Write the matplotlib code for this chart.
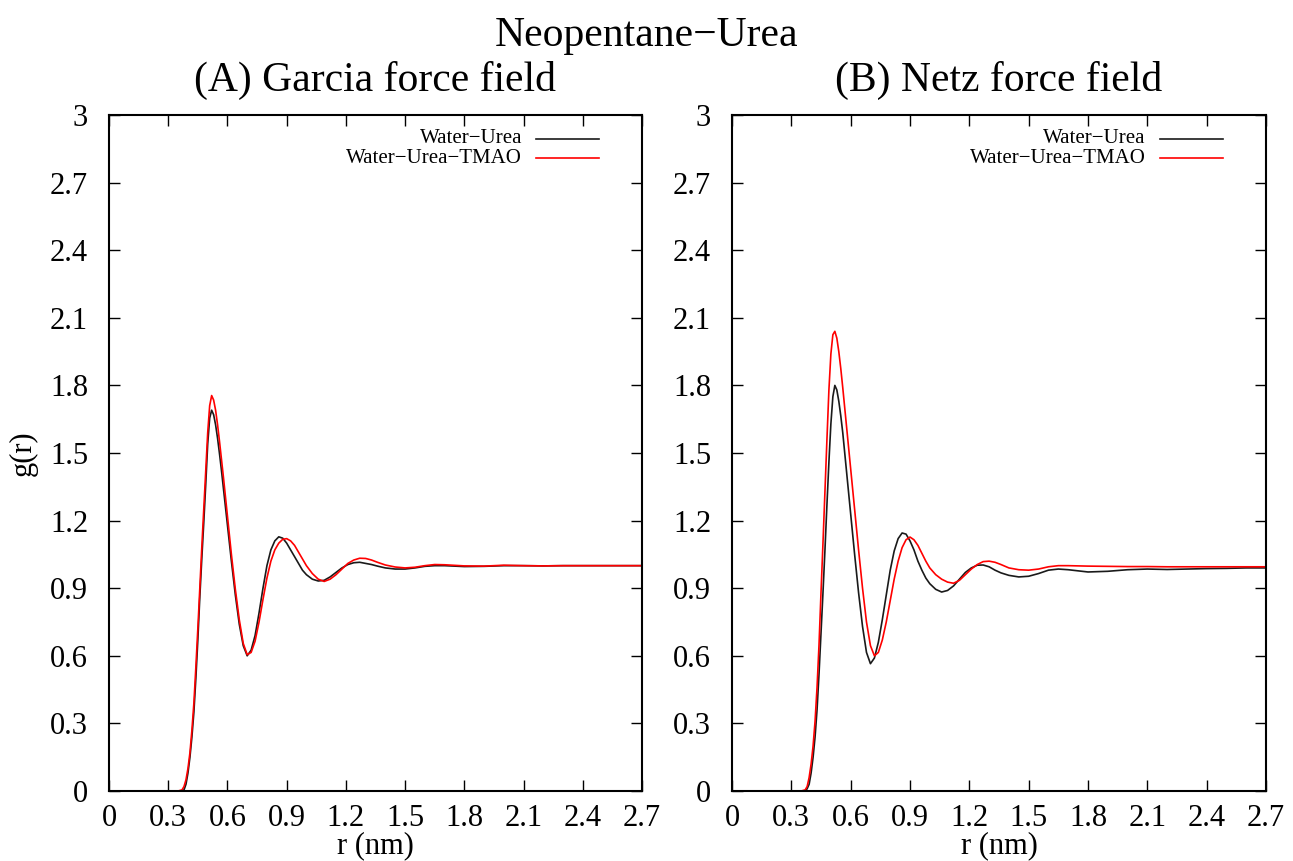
import matplotlib
matplotlib.use("Agg")
import matplotlib.pyplot as plt

# radial distribution functions, neopentane-urea
r_garcia = [0.35, 0.37, 0.38, 0.39, 0.40, 0.41, 0.42, 0.43, 0.44, 0.45, 0.46, 0.47, 0.48, 0.49,
            0.50, 0.51, 0.52, 0.53, 0.54, 0.55, 0.56, 0.57, 0.58, 0.60, 0.62, 0.64, 0.66, 0.68,
            0.70, 0.72, 0.74, 0.76, 0.78, 0.80, 0.82, 0.84, 0.86, 0.88, 0.90, 0.92, 0.94, 0.96,
            0.98, 1.00, 1.03, 1.06, 1.09, 1.12, 1.15, 1.18, 1.21, 1.24, 1.27, 1.30, 1.33, 1.36,
            1.40, 1.45, 1.50, 1.55, 1.60, 1.65, 1.70, 1.80, 1.90, 2.00, 2.10, 2.20, 2.30, 2.40,
            2.50, 2.60, 2.70]
g_garcia_wu = [0.0, 0.0, 0.005, 0.03, 0.08, 0.15, 0.24, 0.35, 0.50, 0.67, 0.86, 1.03, 1.19, 1.36,
               1.54, 1.655, 1.69, 1.67, 1.625, 1.565, 1.495, 1.42, 1.34, 1.18, 1.02, 0.87, 0.74, 0.645,
               0.60, 0.625, 0.69, 0.79, 0.90, 1.00, 1.07, 1.11, 1.128, 1.122, 1.10, 1.07, 1.04, 1.01,
               0.98, 0.96, 0.94, 0.932, 0.935, 0.95, 0.97, 0.99, 1.005, 1.013, 1.015, 1.01, 1.005, 0.998,
               0.99, 0.985, 0.985, 0.99, 0.997, 1.0, 1.0, 0.996, 0.997, 1.0, 1.0, 0.999, 1.0, 1.0,
               1.0, 1.0, 1.0]
g_garcia_wut = [0.0, 0.005, 0.02, 0.05, 0.10, 0.17, 0.27, 0.39, 0.55, 0.72, 0.90, 1.08, 1.25, 1.42,
                1.59, 1.71, 1.755, 1.735, 1.69, 1.625, 1.55, 1.47, 1.39, 1.22, 1.05, 0.895, 0.76, 0.655,
                0.605, 0.615, 0.665, 0.75, 0.85, 0.945, 1.02, 1.07, 1.10, 1.117, 1.12, 1.11, 1.09, 1.06,
                1.03, 1.00, 0.965, 0.94, 0.93, 0.94, 0.96, 0.985, 1.01, 1.025, 1.033, 1.032, 1.025, 1.015,
                1.003, 0.994, 0.99, 0.993, 1.0, 1.005, 1.004, 0.999, 0.998, 1.002, 1.0, 0.999, 1.0, 1.0,
                1.0, 1.0, 1.0]

r_netz = r_garcia
g_netz_wu = [0.0, 0.0, 0.01, 0.03, 0.08, 0.15, 0.24, 0.36, 0.52, 0.70, 0.88, 1.07, 1.27, 1.46,
             1.63, 1.75, 1.80, 1.78, 1.73, 1.665, 1.59, 1.50, 1.41, 1.23, 1.05, 0.88, 0.73, 0.615,
             0.565, 0.59, 0.66, 0.76, 0.87, 0.98, 1.065, 1.12, 1.145, 1.14, 1.11, 1.07, 1.02, 0.98,
             0.945, 0.92, 0.895, 0.883, 0.89, 0.91, 0.94, 0.97, 0.99, 1.002, 1.003, 0.995, 0.98, 0.968,
             0.957, 0.95, 0.953, 0.965, 0.98, 0.985, 0.982, 0.972, 0.975, 0.982, 0.985, 0.983, 0.985, 0.987,
             0.988, 0.99, 0.99]
g_netz_wut = [0.0, 0.005, 0.02, 0.06, 0.12, 0.20, 0.31, 0.46, 0.65, 0.88, 1.10, 1.33, 1.56, 1.78,
              1.94, 2.025, 2.04, 2.01, 1.95, 1.875, 1.79, 1.70, 1.61, 1.43, 1.25, 1.07, 0.90, 0.75,
              0.645, 0.60, 0.615, 0.67, 0.75, 0.845, 0.94, 1.02, 1.08, 1.115, 1.127, 1.115, 1.09, 1.055,
              1.02, 0.99, 0.96, 0.94, 0.927, 0.922, 0.935, 0.96, 0.985, 1.005, 1.018, 1.02, 1.015, 1.005,
              0.99, 0.982, 0.98, 0.985, 0.995, 1.0, 1.0, 0.998, 0.997, 0.996, 0.996, 0.995, 0.995, 0.995,
              0.995, 0.995, 0.995]

panels = [("(A) Garcia force field", r_garcia, g_garcia_wu, g_garcia_wut),
          ("(B) Netz force field", r_netz, g_netz_wu, g_netz_wut)]
series_labels = ["Water\u2212Urea", "Water\u2212Urea\u2212TMAO"]
series_colors = ["#1a1a1a", "#ff0000"]

xticks = [0, 0.3, 0.6, 0.9, 1.2, 1.5, 1.8, 2.1, 2.4, 2.7]
xtick_labels = ["0", "0.3", "0.6", "0.9", "1.2", "1.5", "1.8", "2.1", "2.4", "2.7"]
yticks = [0, 0.3, 0.6, 0.9, 1.2, 1.5, 1.8, 2.1, 2.4, 2.7, 3.0]
ytick_labels = ["0", "0.3", "0.6", "0.9", "1.2", "1.5", "1.8", "2.1", "2.4", "2.7", "3"]

plt.rcParams["font.family"] = ["Liberation Serif", "DejaVu Serif"]

fig = plt.figure(figsize=(12.93, 8.61), dpi=100)
W, H = 1293.0, 861.0
boxes = [(109, 642), (732, 1266)]
top, bottom = 115, 791

for (title, r, g1, g2), (x0, x1) in zip(panels, boxes):
    ax = fig.add_axes([x0 / W, 1 - bottom / H, (x1 - x0) / W, (bottom - top) / H])
    ax.plot(r, g1, color=series_colors[0], lw=1.2)
    ax.plot(r, g2, color=series_colors[1], lw=1.2)
    ax.set_xlim(0, 2.7)
    ax.set_ylim(0, 3)
    ax.set_xticks(xticks)
    ax.set_xticklabels(xtick_labels)
    ax.set_yticks(yticks)
    ax.set_yticklabels(ytick_labels)
    ax.tick_params(direction="in", length=8, width=1.0, top=True, right=True,
                   labelsize=22)
    ax.tick_params(axis="x", pad=9)
    ax.tick_params(axis="y", pad=15)
    for sp in ax.spines.values():
        sp.set_linewidth(1.5)
    ax.set_xlabel("r (nm)", fontsize=22, labelpad=-1)
    ax.set_title(title, fontsize=30, pad=17)

    # gnuplot-style key: right-aligned text followed by the sample line
    for i, (lab, col) in enumerate(zip(series_labels, series_colors)):
        yk = 0.9645 - i * 0.0285
        ax.text(0.775, yk, lab, transform=ax.transAxes, ha="right", va="center",
                fontsize=15)
        ax.plot([0.802, 0.919], [yk, yk], transform=ax.transAxes, color=col, lw=1.2)

    if x0 == 109:
        ax.set_ylabel("g(r)", fontsize=22, labelpad=9)

fig.text(0.5, 1 - 36 / H, "Neopentane\u2212Urea", ha="center", va="center", fontsize=30)

fig.savefig("out.png", dpi=100)
